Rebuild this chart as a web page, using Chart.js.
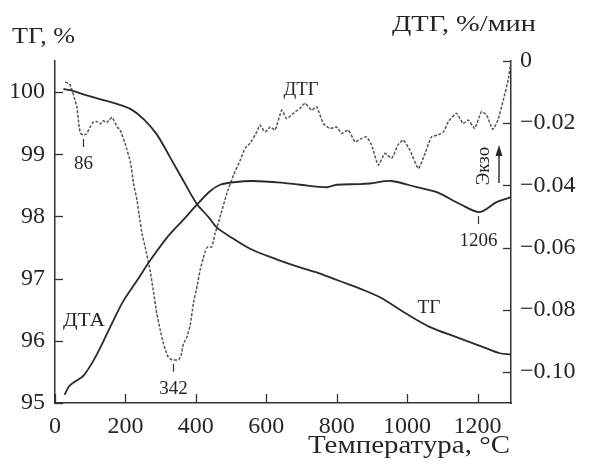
<!DOCTYPE html>
<html>
<head>
<meta charset="utf-8">
<script src="https://cdn.jsdelivr.net/npm/chart.js@4/dist/chart.umd.min.js"></script>
<style>
html,body{margin:0;padding:0;background:#fff;}
canvas{display:block;}
</style>
</head>
<body>
<canvas id="c" width="590" height="471"></canvas>
<script>
// ---- data ----
const tgTemp = [24, 43, 100, 176, 214, 251, 289, 327, 365, 403, 436, 460, 507, 554, 601, 649, 696, 743, 790, 838, 866, 923, 999, 1065, 1140, 1216, 1263, 1294];
const tgVal  = [100.05, 100.03, 99.93, 99.81, 99.73, 99.57, 99.32, 98.95, 98.57, 98.2, 97.99, 97.82, 97.64, 97.48, 97.37, 97.27, 97.18, 97.1, 97.0, 96.9, 96.84, 96.7, 96.43, 96.22, 96.06, 95.9, 95.8, 95.78];

const dtaTemp = [27, 40, 53, 81, 110, 138, 166, 195, 233, 270, 318, 365, 403, 441, 469, 507, 563, 649, 696, 772, 800, 866, 894, 956, 1027, 1084, 1150, 1206, 1254, 1296];
const dtaVal  = [95.13, 95.27, 95.33, 95.44, 95.69, 96.0, 96.33, 96.65, 96.97, 97.29, 97.66, 97.95, 98.19, 98.41, 98.51, 98.55, 98.57, 98.54, 98.51, 98.47, 98.51, 98.52, 98.53, 98.57, 98.47, 98.39, 98.2, 98.07, 98.23, 98.31];

const dtgTemp = [29, 43, 62, 68, 72, 80, 89, 100, 109, 119, 128, 137, 146, 154, 162, 168, 177, 185, 199, 215, 223, 233, 239, 247, 256, 270, 279, 289, 299, 308, 316, 322, 333, 351, 358, 365, 374, 384, 393, 404, 412, 421, 426, 432, 445, 455, 469, 488, 507, 526, 540, 554, 573, 582, 597, 611, 625, 644, 658, 677, 696, 710, 729, 743, 762, 781, 800, 814, 833, 852, 871, 885, 899, 918, 937, 956, 974, 989, 1008, 1032, 1051, 1069, 1088, 1103, 1117, 1140, 1159, 1174, 1192, 1211, 1226, 1243, 1258, 1273, 1287, 1295];
const dtgVal  = [-0.0067, -0.0077, -0.0147, -0.0206, -0.0232, -0.0238, -0.0235, -0.0212, -0.0196, -0.0195, -0.0203, -0.0192, -0.0198, -0.019, -0.0181, -0.0193, -0.0213, -0.0222, -0.0265, -0.0329, -0.0394, -0.0448, -0.0496, -0.0555, -0.0598, -0.0673, -0.0737, -0.0812, -0.0866, -0.0909, -0.0937, -0.0953, -0.0961, -0.0961, -0.0947, -0.0909, -0.0889, -0.085, -0.078, -0.0721, -0.0673, -0.0634, -0.0615, -0.0599, -0.0598, -0.0554, -0.0501, -0.0426, -0.0367, -0.0319, -0.028, -0.0265, -0.0228, -0.0206, -0.0228, -0.0212, -0.0222, -0.0158, -0.0185, -0.0168, -0.0152, -0.0136, -0.0158, -0.0147, -0.0201, -0.0217, -0.0212, -0.0233, -0.0222, -0.026, -0.0249, -0.0244, -0.027, -0.0335, -0.0297, -0.0313, -0.027, -0.0254, -0.0287, -0.0346, -0.0297, -0.0244, -0.0238, -0.0228, -0.0195, -0.0168, -0.0201, -0.019, -0.0217, -0.0163, -0.0174, -0.022, -0.019, -0.0126, -0.0061, 0.0];

// peak annotations
const peakTemps  = [86, 342, 1206];
const peakValues = [-0.0238, -0.0961, 98.07];
const peakAxes   = ['yR', 'yR', 'yL'];

const curveNames = ['ТГ', 'ДТА', 'ДТГ'];
const leftTitle = 'ТГ, %';
const rightTitle = 'ДТГ, %/мин';
const xTitle = 'Температура, °С';
const exoLabel = 'Экзо';

// ---- build ----
const pts = (xs, ys) => xs.map((v, i) => ({x: v, y: ys[i]}));
const SERIF = '"Liberation Serif", "Times New Roman", serif';
const INK = '#262626';

// draws text stretched horizontally to a given width (reference typeface is wider)
function fitText(ctx, str, x, y, size, width, align) {
  ctx.save();
  ctx.font = size + 'px ' + SERIF;
  ctx.textAlign = 'left';
  const w = ctx.measureText(str).width;
  let left = x;
  if (align === 'right') left = x - width;
  else if (align === 'center') left = x - width / 2;
  ctx.translate(left, y);
  ctx.scale(width / w, 1);
  ctx.fillText(str, 0, 0);
  ctx.restore();
}

const overlay = {
  id: 'overlay',
  afterDraw(chart) {
    const {ctx, chartArea: a, scales} = chart;
    const x = scales.x, yL = scales.yL, yR = scales.yR;
    ctx.save();
    ctx.strokeStyle = '#333';
    ctx.lineWidth = 1.3;
    const line = (x1, y1, x2, y2) => { ctx.beginPath(); ctx.moveTo(x1, y1); ctx.lineTo(x2, y2); ctx.stroke(); };
    // inward tick marks
    x.ticks.forEach(t => { const p = Math.round(x.getPixelForValue(t.value)) + 0.5; line(p, a.bottom, p, a.bottom - 9); });
    yL.ticks.forEach(t => { const p = Math.round(yL.getPixelForValue(t.value)) + 0.5; line(a.left, p, a.left + 8, p); });
    yR.ticks.forEach(t => { const p = Math.round(yR.getPixelForValue(t.value)) + 0.5; line(a.right, p, a.right - 8, p); });

    ctx.fillStyle = INK;
    ctx.textBaseline = 'alphabetic';
    // axis titles
    fitText(ctx, leftTitle, 12, 43, 23, 63, 'left');
    fitText(ctx, rightTitle, 392, 31, 23, 144, 'left');
    fitText(ctx, xTitle, 510, 453, 25, 202, 'right');

    // curve labels
    fitText(ctx, curveNames[2], 301, 95, 19, 35, 'center');
    fitText(ctx, curveNames[1], 84, 326, 19, 42, 'center');
    fitText(ctx, curveNames[0], 429, 313, 19, 23, 'center');

    // peak markers
    ctx.lineWidth = 1.2;
    ctx.font = '19px ' + SERIF;
    ctx.textAlign = 'center';
    peakTemps.forEach((t, i) => {
      const sc = scales[peakAxes[i]];
      const px = Math.round(x.getPixelForValue(t)) - 1.5;
      const py = sc.getPixelForValue(peakValues[i]);
      line(px, py + 4, px, py + 12);
      ctx.fillText(String(t), px, py + 34);
    });

    // Экзо with arrow
    ctx.save();
    ctx.translate(483, 166);
    ctx.rotate(-Math.PI / 2);
    ctx.textAlign = 'center';
    ctx.textBaseline = 'middle';
    ctx.font = '19px ' + SERIF;
    ctx.fillText(exoLabel, 0, 1);
    ctx.restore();
    ctx.lineWidth = 1.5;
    line(499, 183, 499, 153);
    ctx.beginPath();
    ctx.moveTo(499, 145); ctx.lineTo(495.5, 156); ctx.lineTo(502.5, 156); ctx.closePath();
    ctx.fill();
    ctx.restore();
  }
};

const tickFont = {family: SERIF, size: 24};

new Chart(document.getElementById('c'), {
  type: 'line',
  data: {
    datasets: [
      {label: curveNames[0], data: pts(tgTemp, tgVal), yAxisID: 'yL', borderColor: '#2a2a2a', borderWidth: 1.8, pointRadius: 0, tension: 0.3, fill: false},
      {label: curveNames[1], data: pts(dtaTemp, dtaVal), yAxisID: 'yL', borderColor: '#2a2a2a', borderWidth: 1.8, pointRadius: 0, tension: 0.3, fill: false},
      {label: curveNames[2], data: pts(dtgTemp, dtgVal), yAxisID: 'yR', borderColor: '#555', borderWidth: 1.5, borderDash: [3, 1.6], pointRadius: 0, tension: 0.15, fill: false}
    ]
  },
  options: {
    responsive: false,
    animation: false,
    devicePixelRatio: 1,
    layout: {padding: {top: 61, left: 0, right: 0, bottom: 0}},
    plugins: {legend: {display: false}, tooltip: {enabled: false}},
    scales: {
      x: {
        type: 'linear', position: 'bottom', min: 0, max: 1295,
        ticks: {stepSize: 200, includeBounds: false, padding: 9, font: tickFont, color: INK, maxRotation: 0, autoSkip: false,
          callback: v => String(v)},
        grid: {display: false, drawTicks: false},
        border: {display: true, color: '#333', width: 1.5},
        afterFit: s => { s.height = 68; }
      },
      yL: {
        type: 'linear', position: 'left', min: 95, max: 100.5,
        ticks: {stepSize: 1, includeBounds: false, padding: 10, font: tickFont, color: INK, autoSkip: false,
          callback: v => String(v)},
        grid: {display: false, drawTicks: false},
        border: {display: true, color: '#333', width: 1.5},
        afterFit: s => { s.width = 55; }
      },
      yR: {
        type: 'linear', position: 'right', min: -0.11, max: 0,
        ticks: {stepSize: 0.02, includeBounds: false, padding: 9, font: tickFont, color: INK, autoSkip: false,
          callback: v => Math.abs(v) < 1e-9 ? '0' : '\u2212' + Math.abs(v).toFixed(2)},
        grid: {display: false, drawTicks: false},
        border: {display: true, color: '#333', width: 1.5},
        afterFit: s => { s.width = 79; }
      }
    }
  },
  plugins: [overlay]
});
</script>
</body>
</html>
